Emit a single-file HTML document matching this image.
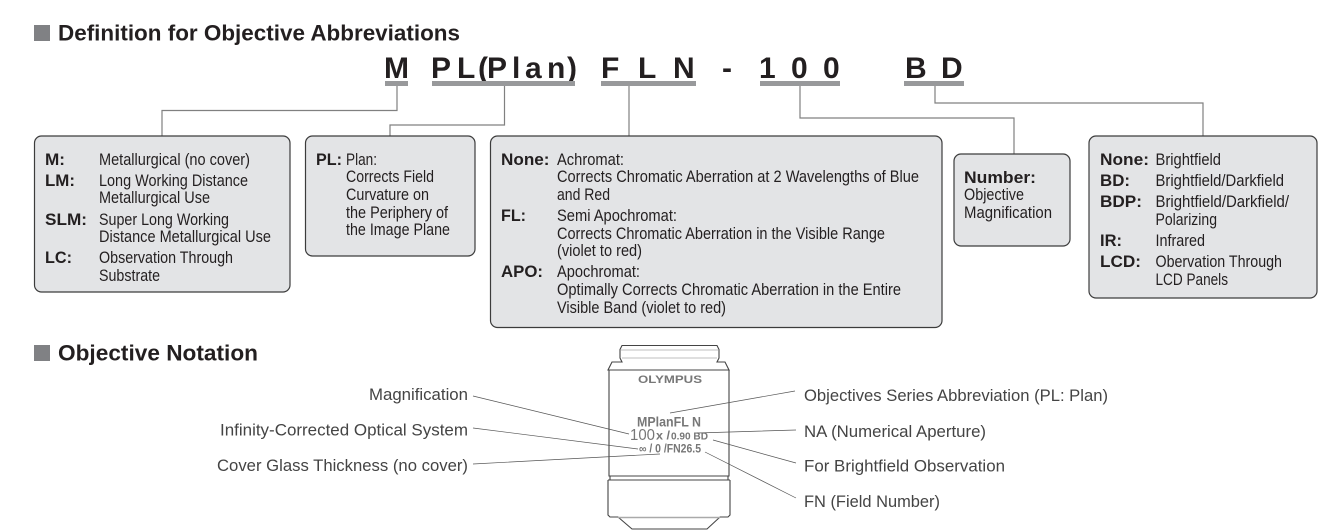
<!DOCTYPE html>
<html><head><meta charset="utf-8"><style>
html,body{margin:0;padding:0;background:#fff;width:1343px;height:531px;overflow:hidden}
svg{display:block}
text{font-family:"Liberation Sans",sans-serif;fill:#231f20}
.r{font-size:17px}
.b{font-size:17px;font-weight:bold}
.t{font-size:22px;font-weight:bold}
.h{font-size:30px;font-weight:bold}
.n{font-size:16.5px;fill:#444}
.box{fill:#e3e4e6;stroke:#3c3c3c;stroke-width:1.2}
.c{fill:none;stroke:#808080;stroke-width:1.2}
.u{fill:#98999b}
.l{stroke:#555;stroke-width:.7;fill:none}
.o{fill:none;stroke:#444;stroke-width:1.1}
.g{fill:#777;font-weight:bold}
</style></head><body>
<svg width="1343" height="531" viewBox="0 0 1343 531" xmlns="http://www.w3.org/2000/svg">
<rect x="34" y="25" width="16" height="16" fill="#808184"/>
<text class="t" x="58" y="40.5" textLength="402" lengthAdjust="spacingAndGlyphs">Definition for Objective Abbreviations</text>
<rect x="34" y="345" width="16" height="16" fill="#808184"/>
<text class="t" x="58" y="360.5" textLength="200" lengthAdjust="spacingAndGlyphs">Objective Notation</text>

<text class="h" y="78" x="384">M</text>
<text class="h" y="78" x="431 457 478 487 512 525 547 567">PL(Plan)</text>
<text class="h" y="78" x="601 638 673">FLN</text>
<text class="h" y="78" x="722">-</text>
<text class="h" y="78" x="759 791 823">100</text>
<text class="h" y="78" x="905 941">BD</text>
<rect class="u" x="385" y="81" width="23" height="5"/>
<rect class="u" x="432" y="81" width="143" height="5"/>
<rect class="u" x="601" y="81" width="95" height="5"/>
<rect class="u" x="760" y="81" width="80" height="5"/>
<rect class="u" x="904" y="81" width="60" height="5"/>

<path class="c" d="M397 86V110.5H162V136"/>
<path class="c" d="M504.5 86V125H390V136"/>
<path class="c" d="M629 86V136"/>
<path class="c" d="M800 86V118H1014V154"/>
<path class="c" d="M935 86V103H1203V136"/>

<rect class="box" x="34.5" y="136" width="255.500" height="156" rx="7"/>
<rect class="box" x="305.500" y="136" width="169.500" height="120" rx="7"/>
<rect class="box" x="490.500" y="136" width="451.500" height="191.500" rx="7"/>
<rect class="box" x="954" y="154" width="116" height="92" rx="7"/>
<rect class="box" x="1089" y="136" width="228" height="162" rx="7"/>

<text class="b" x="45" y="165" textLength="20" lengthAdjust="spacingAndGlyphs">M:</text>
<text class="b" x="45" y="186" textLength="30" lengthAdjust="spacingAndGlyphs">LM:</text>
<text class="b" x="45" y="225" textLength="42" lengthAdjust="spacingAndGlyphs">SLM:</text>
<text class="b" x="45" y="263" textLength="27" lengthAdjust="spacingAndGlyphs">LC:</text>
<text class="r" x="99" y="165" textLength="151" lengthAdjust="spacingAndGlyphs">Metallurgical (no cover)</text>
<text class="r" x="99" y="186" textLength="149" lengthAdjust="spacingAndGlyphs">Long Working Distance</text>
<text class="r" x="99" y="203" textLength="111" lengthAdjust="spacingAndGlyphs">Metallurgical Use</text>
<text class="r" x="99" y="225" textLength="130" lengthAdjust="spacingAndGlyphs">Super Long Working</text>
<text class="r" x="99" y="242" textLength="172" lengthAdjust="spacingAndGlyphs">Distance Metallurgical Use</text>
<text class="r" x="99" y="263" textLength="134" lengthAdjust="spacingAndGlyphs">Observation Through</text>
<text class="r" x="99" y="281" textLength="61" lengthAdjust="spacingAndGlyphs">Substrate</text>

<text class="b" x="316" y="165" textLength="26" lengthAdjust="spacingAndGlyphs">PL:</text>
<text class="r" x="346" y="165" textLength="31" lengthAdjust="spacingAndGlyphs">Plan:</text>
<text class="r" x="346" y="182" textLength="88" lengthAdjust="spacingAndGlyphs">Corrects Field</text>
<text class="r" x="346" y="200" textLength="83" lengthAdjust="spacingAndGlyphs">Curvature on</text>
<text class="r" x="346" y="218" textLength="102" lengthAdjust="spacingAndGlyphs">the Periphery of</text>
<text class="r" x="346" y="235" textLength="104" lengthAdjust="spacingAndGlyphs">the Image Plane</text>

<text class="b" x="501" y="165" textLength="48.500" lengthAdjust="spacingAndGlyphs">None:</text>
<text class="b" x="501" y="221" textLength="25" lengthAdjust="spacingAndGlyphs">FL:</text>
<text class="b" x="501" y="277" textLength="42" lengthAdjust="spacingAndGlyphs">APO:</text>
<text class="r" x="557" y="165" textLength="67" lengthAdjust="spacingAndGlyphs">Achromat:</text>
<text class="r" x="557" y="182" textLength="362" lengthAdjust="spacingAndGlyphs">Corrects Chromatic Aberration at 2 Wavelengths of Blue</text>
<text class="r" x="557" y="200" textLength="53" lengthAdjust="spacingAndGlyphs">and Red</text>
<text class="r" x="557" y="221" textLength="120" lengthAdjust="spacingAndGlyphs">Semi Apochromat:</text>
<text class="r" x="557" y="239" textLength="328" lengthAdjust="spacingAndGlyphs">Corrects Chromatic Aberration in the Visible Range</text>
<text class="r" x="557" y="256" textLength="85" lengthAdjust="spacingAndGlyphs">(violet to red)</text>
<text class="r" x="557" y="277" textLength="83" lengthAdjust="spacingAndGlyphs">Apochromat:</text>
<text class="r" x="557" y="295" textLength="344" lengthAdjust="spacingAndGlyphs">Optimally Corrects Chromatic Aberration in the Entire</text>
<text class="r" x="557" y="313" textLength="169" lengthAdjust="spacingAndGlyphs">Visible Band (violet to red)</text>

<text class="b" x="964" y="183" textLength="72" lengthAdjust="spacingAndGlyphs">Number:</text>
<text class="r" x="964" y="200" textLength="60" lengthAdjust="spacingAndGlyphs">Objective</text>
<text class="r" x="964" y="218" textLength="88" lengthAdjust="spacingAndGlyphs">Magnification</text>

<text class="b" x="1100" y="165" textLength="49" lengthAdjust="spacingAndGlyphs">None:</text>
<text class="b" x="1100" y="186" textLength="30" lengthAdjust="spacingAndGlyphs">BD:</text>
<text class="b" x="1100" y="207" textLength="42" lengthAdjust="spacingAndGlyphs">BDP:</text>
<text class="b" x="1100" y="246" textLength="22" lengthAdjust="spacingAndGlyphs">IR:</text>
<text class="b" x="1100" y="267" textLength="41" lengthAdjust="spacingAndGlyphs">LCD:</text>
<text class="r" x="1155.500" y="165" textLength="65.500" lengthAdjust="spacingAndGlyphs">Brightfield</text>
<text class="r" x="1155.500" y="186" textLength="128.500" lengthAdjust="spacingAndGlyphs">Brightfield/Darkfield</text>
<text class="r" x="1155.500" y="207" textLength="133.500" lengthAdjust="spacingAndGlyphs">Brightfield/Darkfield/</text>
<text class="r" x="1155.500" y="225" textLength="61.500" lengthAdjust="spacingAndGlyphs">Polarizing</text>
<text class="r" x="1155.500" y="246" textLength="49.500" lengthAdjust="spacingAndGlyphs">Infrared</text>
<text class="r" x="1155.500" y="267" textLength="126.500" lengthAdjust="spacingAndGlyphs">Obervation Through</text>
<text class="r" x="1155.500" y="285" textLength="72.500" lengthAdjust="spacingAndGlyphs">LCD Panels</text>

<text class="n" x="369" y="400" textLength="99" lengthAdjust="spacingAndGlyphs">Magnification</text>
<text class="n" x="220" y="435.500" textLength="248" lengthAdjust="spacingAndGlyphs">Infinity-Corrected Optical System</text>
<text class="n" x="217" y="471" textLength="251" lengthAdjust="spacingAndGlyphs">Cover Glass Thickness (no cover)</text>
<text class="n" x="804" y="401" textLength="304" lengthAdjust="spacingAndGlyphs">Objectives Series Abbreviation (PL: Plan)</text>
<text class="n" x="804" y="437" textLength="182" lengthAdjust="spacingAndGlyphs">NA (Numerical Aperture)</text>
<text class="n" x="804" y="471.500" textLength="201" lengthAdjust="spacingAndGlyphs">For Brightfield Observation</text>
<text class="n" x="804" y="507" textLength="136" lengthAdjust="spacingAndGlyphs">FN (Field Number)</text>

<path class="o" d="M622 345.500H717L719 349.500V358L717 362H725L729 370H608L612 362H622L620 358V349.500Z"/>
<path d="M621 350H718M622 358H717" stroke="#aaa" stroke-width=".8" fill="none"/>
<path class="o" d="M609 370V476H729V370"/>
<path class="o" d="M609 476H729M610 476V480M728 476V480M608 480H730"/>
<path class="o" stroke-width="1.4" d="M608 480V515L610 517H618L632 529H707L720 517H728L730 515V480"/>
<path d="M618 517.500H720" stroke="#aaa" stroke-width="1.500"/>

<text class="g" x="638" y="383" font-size="11" textLength="64" lengthAdjust="spacingAndGlyphs">OLYMPUS</text>
<text class="g" x="637" y="426.500" font-size="14" textLength="64" lengthAdjust="spacingAndGlyphs">MPlanFL N</text>
<text class="g" x="630" y="440" font-size="16" textLength="25" lengthAdjust="spacingAndGlyphs" style="font-weight:normal">100</text>
<text class="g" x="656" y="439.500" font-size="11.500" textLength="14" lengthAdjust="spacingAndGlyphs">x /</text>
<text class="g" x="671" y="439.500" font-size="10.500" textLength="37" lengthAdjust="spacingAndGlyphs">0.90 BD</text>
<text class="g" x="639" y="452.500" font-size="11.500" textLength="62" lengthAdjust="spacingAndGlyphs">∞ / 0 /FN26.5</text>

<path class="l" d="M473 396L629 434M473 428L638 449M473 464L660 454"/>
<path class="l" d="M795 391L670 413M796 430L697 433M796 463L713 440M796 498L705 452"/>
</svg>
</body></html>
